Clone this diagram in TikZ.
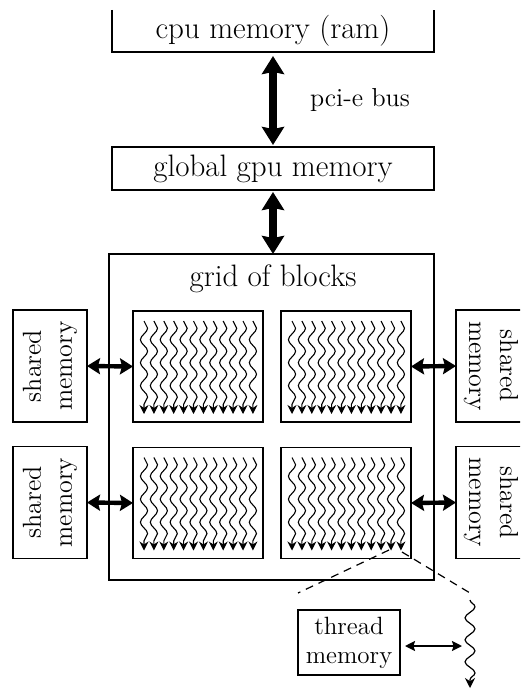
\documentclass[tikz,border=0pt]{standalone}
\usetikzlibrary{arrows.meta,decorations.pathmorphing,calc}
\begin{document}
\begin{tikzpicture}[x=0.5pt,y=-0.5pt,
  box/.style={draw, line width=0.7pt, inner sep=0pt, outer sep=0pt},
  bigtxt/.style={font=\fontsize{15.5}{18.6}\selectfont},
  smtxt/.style={font=\fontsize{13}{15.5}\selectfont, align=center},
  thtxt/.style={font=\fontsize{12.5}{14.5}\selectfont, align=center},
  busarrow/.style={{Stealth[length=9pt,width=11pt,inset=1pt]}-{Stealth[length=9pt,width=11pt,inset=1pt]}, line width=4pt},
  sidearrow/.style={{Stealth[length=6.5pt,width=8pt,inset=1pt]}-{Stealth[length=6.5pt,width=8pt,inset=1pt]}, line width=2.2pt},
  tharrow/.style={{Stealth[length=5pt,width=5pt,inset=0.8pt]}-{Stealth[length=5pt,width=5pt,inset=0.8pt]}, line width=1pt},
  thread/.style={decorate, decoration={snake, segment length=11.5pt, amplitude=1.8pt, post length=3pt}, -{Stealth[length=4.5pt,width=4.5pt]}, line width=0.55pt},
  bigthread/.style={decorate, decoration={snake, segment length=11pt, amplitude=2.5pt, post length=4pt}, -{Stealth[length=5pt,width=5pt]}, line width=0.6pt},
  zoomline/.style={line width=0.6pt, dash pattern=on 4pt off 3pt}
]
\useasboundingbox (0,0) rectangle (520,690);
\clip (0,0) rectangle (520,690);

% cpu memory (box cut at the top)
\node[inner sep=0pt, outer sep=0pt, minimum width=161pt, minimum height=21pt, bigtxt] (cpu) at (273,31) {cpu memory (ram)};
\draw[line width=0.7pt] (cpu.north west) -- (cpu.south west) -- (cpu.south east) -- (cpu.north east);

% global gpu memory
\node[box, minimum width=161pt, minimum height=21.5pt, bigtxt] (gpu) at (273,168.5) {global gpu memory};

% grid of blocks
\node[box, minimum width=162.5pt, minimum height=163pt] (grid) at (271.5,417) {};
\node[bigtxt, anchor=base] (gridlabel) at (273,286) {grid of blocks};

% blocks
\node[box, minimum width=65pt, minimum height=55.5pt] (TL) at (198,366.5) {};
\node[box, minimum width=65pt, minimum height=55.5pt] (TR) at (346,366.5) {};
\node[box, minimum width=65pt, minimum height=55.5pt] (BL) at (198,503) {};
\node[box, minimum width=65pt, minimum height=55.5pt] (BR) at (346,503) {};

% threads
\foreach \blk in {TL,TR,BL,BR}{
  \foreach \i in {0,...,11}{
    \pgfmathsetmacro{\xs}{5.5+4.95*\i}
    \draw[thread] ([xshift=\xs pt, yshift=-5pt]\blk.north west) -- ++(0,93);
  }
}

% shared memories
\node[box, rotate=90, minimum width=56pt, minimum height=37pt, smtxt] (shL1) at (50,366) {shared\\memory};
\node[box, rotate=90, minimum width=56pt, minimum height=37pt, smtxt] (shL2) at (50,502.5) {shared\\memory};
\node[box, rotate=-90, minimum width=56pt, minimum height=35pt, smtxt] (shR1) at (491,366) {shared\\memory};
\node[box, rotate=-90, minimum width=56pt, minimum height=35pt, smtxt] (shR2) at (491,502.5) {shared\\memory};

% bus arrows
\draw[busarrow, shorten <=2pt, shorten >=1pt] (cpu.south) -- (gpu.north);
\node[smtxt, anchor=base west] (pci) at (303,106) {pci-e bus};
\path (gpu.south |- grid.north) coordinate (gridtop);
\draw[busarrow, shorten <=1pt] (gpu.south) -- (gridtop);

% side arrows
\draw[sidearrow] (shL1.south) -- (TL.west);
\draw[sidearrow] (shL2.south) -- (BL.west);
\draw[sidearrow] (shR1.south) -- (TR.east);
\draw[sidearrow] (shR2.south) -- (BR.east);

% zoomed thread
\coordinate (zA) at (389,550);
\coordinate (zB) at (402,552);
\coordinate (zC) at (298,593);
\coordinate (zD) at (470,593);
\draw[zoomline] (zA) -- (zC);
\draw[zoomline] (zB) -- (zD);
\coordinate (wtop) at (470,600);
\coordinate (wbot) at (470,688);
\draw[bigthread] (wtop) -- (wbot);

\node[box, minimum width=51pt, minimum height=32.5pt, thtxt] (tm) at (349,642.5) {thread\\memory};
\path (wtop |- tm.east) coordinate (tmr);
\draw[tharrow] ([xshift=2.5pt,yshift=-1.75pt]tm.east) -- ([xshift=-4pt,yshift=-1.75pt]tmr);
\end{tikzpicture}
\end{document}
